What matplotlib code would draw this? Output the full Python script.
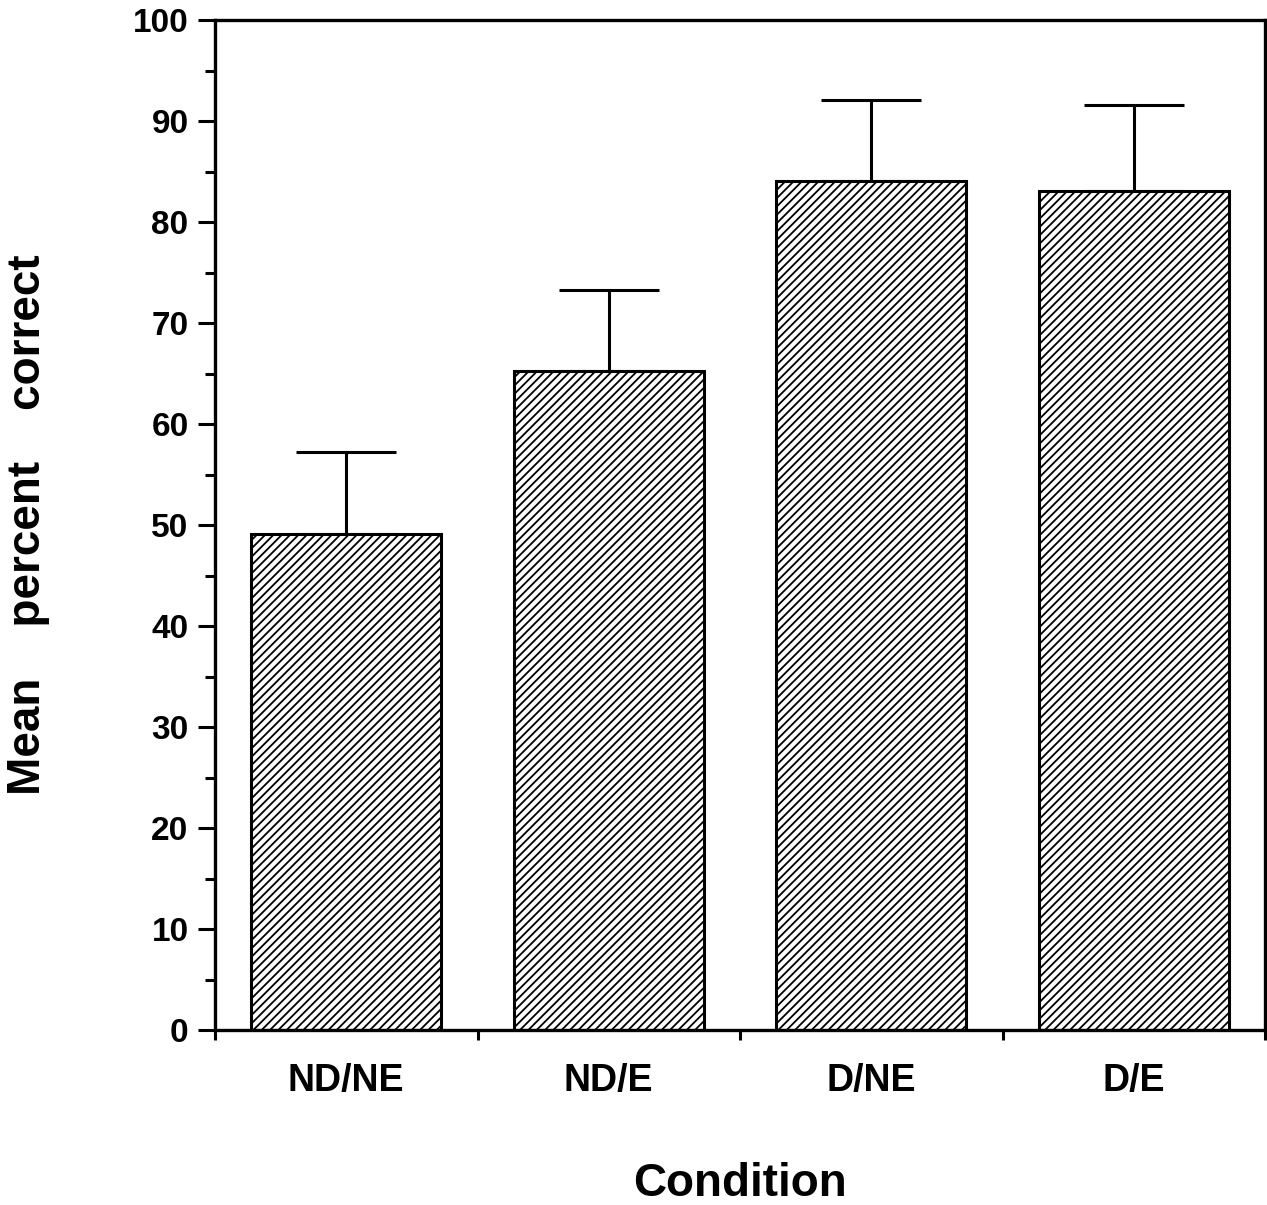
import numpy as np
import matplotlib.pyplot as plt
from matplotlib.ticker import MultipleLocator, FixedLocator

plt.rcParams["font.family"] = ["Liberation Sans", "DejaVu Sans"]
plt.rcParams["font.weight"] = "bold"
plt.rcParams["axes.labelweight"] = "bold"
plt.rcParams["hatch.linewidth"] = 1.3

# data
conditions = ["ND/NE", "ND/E", "D/NE", "D/E"]
means = [49.1, 65.2, 84.1, 83.1]
sem = [8.1, 8.1, 8.0, 8.5]
y_ticks = [0, 10, 20, 30, 40, 50, 60, 70, 80, 90, 100]

fig = plt.figure(figsize=(12.67, 12.05), dpi=100)
ax = fig.add_axes([215 / 1267, 1 - 1030 / 1205, 1050 / 1267, 1010 / 1205])

x = np.arange(len(conditions))
ax.bar(x, means, width=0.724, color="white", edgecolor="black",
       linewidth=2.2, hatch="////", zorder=2)
ax.errorbar(x, means, yerr=[np.zeros(len(sem)), sem], fmt="none",
            ecolor="black", elinewidth=2.2, capsize=36, capthick=2.2, zorder=1)

ax.set_xlim(-0.5, len(conditions) - 0.5)
ax.set_ylim(0, 100)

ax.set_yticks(y_ticks)
ax.yaxis.set_minor_locator(MultipleLocator(5))
ax.tick_params(axis="y", which="major", direction="out", length=12, width=2.2,
               labelsize=24, pad=7)
ax.tick_params(axis="y", which="minor", direction="out", length=7, width=2.2)

ax.set_xticks(x)
ax.set_xticklabels(conditions)
ax.xaxis.set_minor_locator(FixedLocator(np.arange(-0.5, len(conditions), 1.0)))
ax.tick_params(axis="x", which="major", length=0, labelsize=27, pad=24)
ax.tick_params(axis="x", which="minor", direction="out", length=7, width=2.2)
ax.tick_params(right=False, top=False)

for s in ax.spines.values():
    s.set_linewidth(2.4)

ax.set_ylabel("Mean    percent    correct", fontsize=33)
ax.yaxis.set_label_coords(-0.157, 0.5)
ax.set_xlabel("Condition", fontsize=33)
ax.xaxis.set_label_coords(0.5, -0.131)

fig.savefig("out.png", dpi=100)
